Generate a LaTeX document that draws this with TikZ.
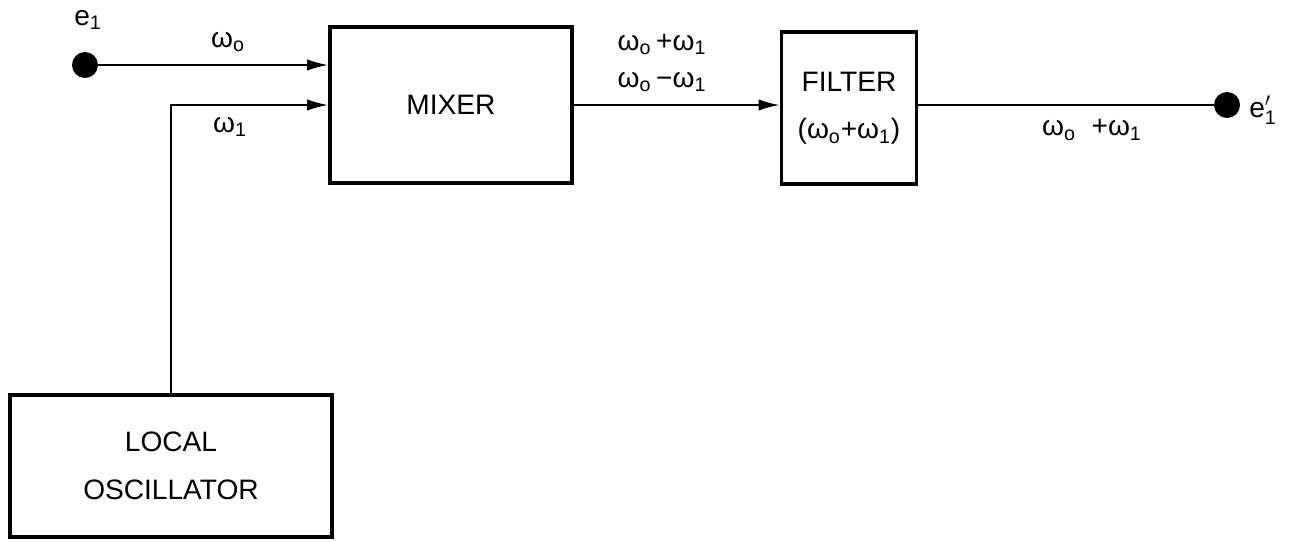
\documentclass[tikz,border=0pt]{standalone}
\usepackage{fontspec}
\setmainfont{Liberation Sans}
\usetikzlibrary{arrows.meta}

\begin{document}
\begin{tikzpicture}[x=0.02cm,y=-0.02cm,
        block/.style={draw, line width=2.2pt, align=center, inner sep=0pt, font=\fontsize{16}{27}\selectfont},
        terminal/.style={circle, fill, inner sep=0pt, minimum size=0.52cm},
        sig/.style={line width=1.1pt, -{Latex[length=12pt,width=6.5pt]}},
        wire/.style={line width=1.1pt},
        lbl/.style={font=\fontsize{16}{19}\selectfont, inner sep=1pt}]
    \useasboundingbox (0,0) rectangle (1293,541);

    % blocks
    \node[block, minimum width=4.84cm, minimum height=3.12cm] (mixer) at (451,105) {MIXER};
    \node[block, minimum width=2.7cm, minimum height=3.04cm] (filter) at (849,108) {FILTER\\(ω\textsubscript{o}+ω\textsubscript{1})};
    \node[block, minimum width=6.44cm, minimum height=2.84cm] (osc) at (171,466) {LOCAL\\OSCILLATOR};

    % terminals
    \node[terminal] (in) at (85,65) {};
    \node[terminal] (out) at (1227,105) {};
    \node[lbl] (inname) at (88,20) {e\textsubscript{1}};
    \node[lbl] (outname) at (1263,110) {e$^{\prime}_{\mathrm{1}}$};

    % connectors
    \draw[sig] (in) -- (in -| mixer.west);
    \draw[sig] (osc.north) |- (mixer.west);
    \draw[sig] (mixer.east) -- (mixer.east -| filter.west);
    \draw[wire] (filter.east |- out) -- (out);

    % signal labels
    \node[lbl] (w0) at (228,42) {ω\textsubscript{o}};
    \node[lbl] (w1) at (230,127) {ω\textsubscript{1}};
    \node[lbl, align=center] (mix) at (662,63) {ω\textsubscript{o}\,+ω\textsubscript{1}\\[2pt]ω\textsubscript{o}\,−ω\textsubscript{1}};
    \node[lbl] (sum) at (1092,130) {ω\textsubscript{o}\ \ +ω\textsubscript{1}};
\end{tikzpicture}
\end{document}
